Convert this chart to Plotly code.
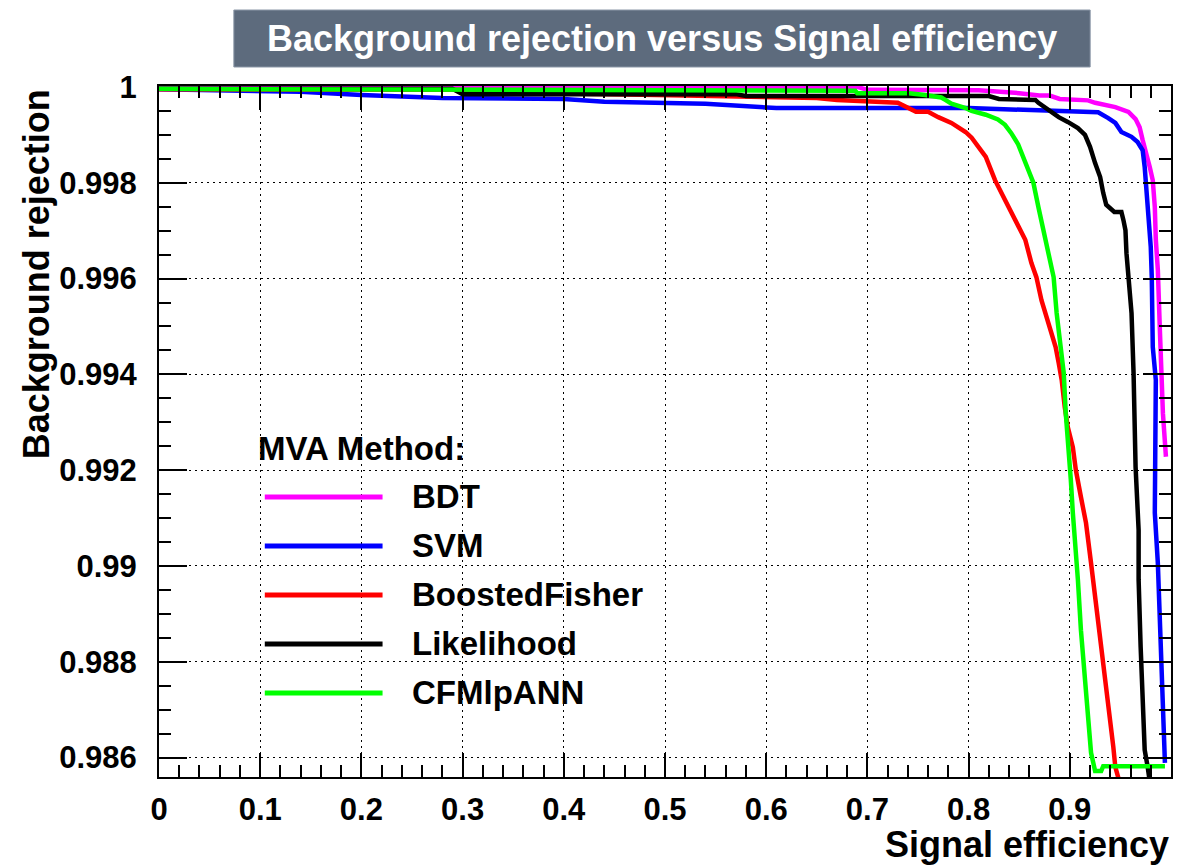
import plotly.graph_objects as go

# ---------------- data ----------------
methods = ["BDT", "SVM", "BoostedFisher", "Likelihood", "CFMlpANN"]
colors = ["#ff00ff", "#0000ff", "#ff0000", "#000000", "#00ff00"]

BDT_eff = [0.0, 0.69, 0.70, 0.81, 0.85, 0.87, 0.88, 0.89, 0.918, 0.925, 0.945, 0.958,
           0.965, 0.969, 0.972, 0.975, 0.979, 0.982, 0.984, 0.985, 0.987, 0.989, 0.992, 0.995]
BDT_rej = [1.0, 1.0, 0.99994, 0.99993, 0.99987, 0.99982, 0.99982, 0.99975, 0.99972, 0.99967,
           0.99958, 0.99948, 0.99933, 0.99916, 0.99889, 0.99868, 0.99833, 0.99805, 0.99749,
           0.99681, 0.99618, 0.99493, 0.99319, 0.99228]

SVM_eff = [0.00, 0.14, 0.20, 0.25, 0.28, 0.40, 0.44, 0.54, 0.58, 0.61, 0.80, 0.83, 0.87,
           0.928, 0.938, 0.945, 0.951, 0.961, 0.967, 0.972, 0.974, 0.976, 0.978, 0.980,
           0.981, 0.982, 0.985, 0.985, 0.984, 0.987, 0.989, 0.990, 0.993, 0.994]
SVM_rej = [0.99995, 0.99990, 0.99983, 0.99979, 0.99977, 0.99975, 0.99969, 0.99965, 0.99960,
           0.99956, 0.99956, 0.99954, 0.99950, 0.99947, 0.99935, 0.99925, 0.99906, 0.99896,
           0.99885, 0.99868, 0.99833, 0.99785, 0.99737, 0.99666, 0.99603, 0.99457, 0.99388,
           0.99207, 0.99111, 0.99006, 0.98902, 0.98797, 0.98658, 0.98589]

FISHER_eff = [0.00, 0.29, 0.34, 0.39, 0.52, 0.65, 0.67, 0.73, 0.748, 0.760, 0.770, 0.783,
              0.797, 0.803, 0.817, 0.826, 0.836, 0.846, 0.856, 0.862, 0.867, 0.872, 0.879,
              0.886, 0.889, 0.892, 0.895, 0.898, 0.903, 0.906, 0.911, 0.916, 0.921, 0.923,
              0.928, 0.931, 0.936, 0.940, 0.943, 0.945, 0.949]
FISHER_rej = [0.99995, 0.99994, 0.99990, 0.99987, 0.99982, 0.99977, 0.99973, 0.99967,
              0.99948, 0.99948, 0.99937, 0.99925, 0.99906, 0.99894, 0.99854, 0.99806,
              0.99764, 0.99722, 0.99681, 0.99633, 0.99603, 0.99555, 0.99507, 0.99457,
              0.99424, 0.99388, 0.99332, 0.99290, 0.99248, 0.99200, 0.99144, 0.99090,
              0.99006, 0.98971, 0.98902, 0.98831, 0.98762, 0.98693, 0.98622, 0.98580, 0.98550]

LIK_eff = [0.00, 0.29, 0.30, 0.57, 0.58, 0.82, 0.83, 0.866, 0.869, 0.879, 0.889, 0.898,
           0.908, 0.915, 0.920, 0.925, 0.930, 0.933, 0.936, 0.944, 0.951, 0.953, 0.955,
           0.956, 0.958, 0.961, 0.963, 0.964, 0.965, 0.968, 0.968, 0.970, 0.972, 0.974,
           0.977, 0.979]
LIK_rej = [0.99996, 0.99996, 0.99985, 0.99985, 0.99981, 0.99981, 0.99975, 0.99973, 0.99967,
           0.99952, 0.99937, 0.99927, 0.99914, 0.99900, 0.99875, 0.99841, 0.99812, 0.99779,
           0.99754, 0.99739, 0.99739, 0.99722, 0.99701, 0.99653, 0.99603, 0.99528, 0.99403,
           0.99332, 0.99207, 0.99075, 0.98971, 0.98831, 0.98693, 0.98616, 0.98580, 0.98550]

ANN_eff = [0.00, 0.34, 0.58, 0.59, 0.688, 0.69, 0.741, 0.757, 0.773, 0.777, 0.783, 0.797,
           0.803, 0.817, 0.829, 0.836, 0.842, 0.849, 0.859, 0.864, 0.869, 0.874, 0.879,
           0.884, 0.887, 0.891, 0.894, 0.896, 0.899, 0.901, 0.903, 0.906, 0.908, 0.911,
           0.915, 0.918, 0.921, 0.925, 0.931, 0.933, 0.994]
ANN_rej = [0.99996, 0.99995, 0.99994, 0.99992, 0.99992, 0.99987, 0.99987, 0.99983, 0.99978,
           0.99973, 0.99965, 0.99956, 0.99950, 0.99942, 0.99932, 0.99921, 0.99904, 0.99880,
           0.99827, 0.99800, 0.99749, 0.99701, 0.99653, 0.99603, 0.99528, 0.99457, 0.99403,
           0.99319, 0.99248, 0.99180, 0.99111, 0.99040, 0.98971, 0.98866, 0.98762, 0.98678,
           0.98610, 0.98572, 0.98572, 0.98582, 0.98582]

series_eff = [BDT_eff, SVM_eff, FISHER_eff, LIK_eff, ANN_eff]
series_rej = [BDT_rej, SVM_rej, FISHER_rej, LIK_rej, ANN_rej]

x_tick_vals = [0, 0.1, 0.2, 0.3, 0.4, 0.5, 0.6, 0.7, 0.8, 0.9, 1.0]
x_tick_text = ["0", "0.1", "0.2", "0.3", "0.4", "0.5", "0.6", "0.7", "0.8", "0.9", "1"]
y_tick_vals = [0.986, 0.988, 0.990, 0.992, 0.994, 0.996, 0.998, 1.0]
y_tick_text = ["0.986", "0.988", "0.99", "0.992", "0.994", "0.996", "0.998", "1"]

title_text = "Background rejection versus Signal efficiency"
x_title = "Signal efficiency"
y_title = "Background rejection"
legend_title = "MVA Method:"

# ---------------- layout geometry ----------------
W, H = 1178, 866
L, R, T, B = 159, 1173, 86, 777
FONT = "Liberation Sans, Arial, Helvetica, sans-serif"


def pxp(x):
    return (x - L) / (R - L)


def pyp(y):
    return (B - y) / (B - T)


fig = go.Figure()
for name, col, ex, ry in zip(methods, colors, series_eff, series_rej):
    fig.add_trace(go.Scatter(x=ex, y=ry, mode="lines", name=name,
                             line=dict(color=col, width=4.5), showlegend=False))

shapes = []
annotations = []

# title box
shapes.append(dict(type="rect", xref="paper", yref="paper",
                   x0=pxp(234), x1=pxp(1092), y0=pyp(67), y1=pyp(10),
                   fillcolor="#5D6B7D", line=dict(color="#8B97A7", width=1), layer="above"))
annotations.append(dict(xref="paper", yref="paper", x=pxp(663), y=pyp(38),
                        text="<b>" + title_text + "</b>", showarrow=False,
                        xanchor="center", yanchor="middle",
                        font=dict(family=FONT, size=36, color="white")))

# axis titles
annotations.append(dict(xref="paper", yref="paper", x=pxp(1172), y=pyp(866),
                        text="<b>" + x_title + "</b>", showarrow=False,
                        xanchor="right", yanchor="bottom", borderpad=0,
                        font=dict(family=FONT, size=36, color="black")))
annotations.append(dict(xref="paper", yref="paper", x=pxp(36), y=pyp(87),
                        text="<b>" + y_title + "</b>", showarrow=False, textangle=-90,
                        xanchor="center", yanchor="top",
                        font=dict(family=FONT, size=36, color="black")))

# legend (drawn manually to get long line samples)
annotations.append(dict(xref="paper", yref="paper", x=pxp(256), y=pyp(448),
                        text="<b>" + legend_title + "</b>", showarrow=False,
                        xanchor="left", yanchor="middle",
                        font=dict(family=FONT, size=33, color="black")))
row_y = [497, 546, 595, 644, 693]
for name, col, ry_ in zip(methods, colors, row_y):
    shapes.append(dict(type="line", xref="paper", yref="paper",
                       x0=pxp(265), x1=pxp(383), y0=pyp(ry_), y1=pyp(ry_),
                       line=dict(color=col, width=5), layer="above"))
    annotations.append(dict(xref="paper", yref="paper", x=pxp(410), y=pyp(ry_ - 1),
                            text="<b>" + name + "</b>", showarrow=False,
                            xanchor="left", yanchor="middle",
                            font=dict(family=FONT, size=33, color="black")))

axis_common = dict(showline=True, linecolor="black", linewidth=2, mirror="ticks",
                   ticks="inside", tickcolor="black", tickwidth=2,
                   showgrid=True, gridcolor="black", gridwidth=1.2, griddash="2px,4px",
                   zeroline=False, tickmode="array")

fig.update_layout(
    width=W, height=H,
    margin=dict(l=L, r=W - R, t=T, b=H - B),
    paper_bgcolor="white", plot_bgcolor="white",
    shapes=shapes, annotations=annotations,
    showlegend=False,
    xaxis=dict(range=[0, 1], tickvals=x_tick_vals, ticktext=x_tick_text, ticklen=24,
               ticklabelstandoff=4,
               tickfont=dict(family=FONT, size=31, color="black", weight="bold"),
               minor=dict(dtick=0.02, ticklen=12, tickwidth=2, tickcolor="black",
                          ticks="inside", showgrid=False),
               **axis_common),
    yaxis=dict(range=[0.985595, 1.00002], tickvals=y_tick_vals, ticktext=y_tick_text,
               ticklen=28, ticklabelstandoff=14,
               tickfont=dict(family=FONT, size=31, color="black", weight="bold"),
               minor=dict(dtick=0.0005, ticklen=12, tickwidth=2, tickcolor="black",
                          ticks="inside", showgrid=False),
               **axis_common),
)

fig.write_html("out.html")
